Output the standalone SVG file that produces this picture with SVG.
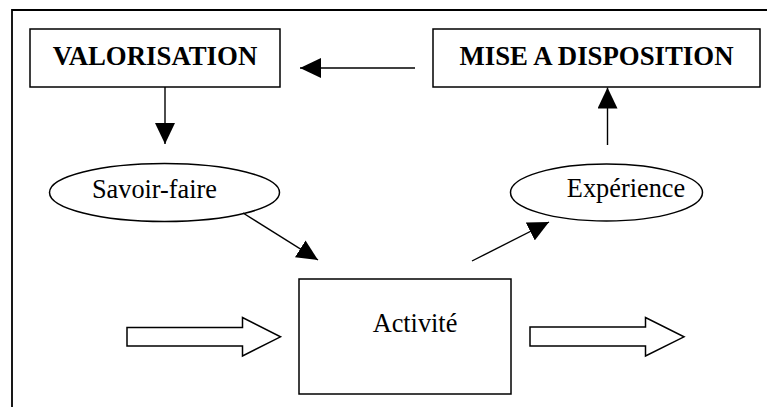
<svg xmlns="http://www.w3.org/2000/svg" width="767" height="407" viewBox="0 0 767 407">
  <style>
    .box { fill: #ffffff; stroke: #000000; stroke-width: 1.5; }
    .frame { fill: none; stroke: #000000; stroke-width: 1.8; }
    .link { fill: none; stroke: #000000; stroke-width: 1.4; marker-end: url(#head); }
    .flow { fill: #ffffff; stroke: #000000; stroke-width: 1.5; stroke-linejoin: miter; }
    .title { font-family: "Liberation Serif", "Times New Roman", serif; font-size: 26.8px; font-weight: bold; fill: #000000; }
    .label { font-family: "Liberation Serif", "Times New Roman", serif; font-size: 26.3px; fill: #000000; }
  </style>
  <defs>
    <marker id="head" markerUnits="userSpaceOnUse" markerWidth="21" markerHeight="20" refX="21" refY="10" orient="auto">
      <path d="M0,0 L21,10 L0,20 Z" fill="#000000"/>
    </marker>
  </defs>

  <rect width="767" height="407" fill="#ffffff"/>

  <!-- open frame: top and left edges only -->
  <path class="frame" d="M12,407 L12,10 L767,10"/>

  <g id="valorisation">
    <rect class="box" x="30" y="29" width="250" height="58"/>
    <text class="title" x="155" y="65" text-anchor="middle">VALORISATION</text>
  </g>

  <g id="mise-a-disposition">
    <rect class="box" x="433" y="29" width="327" height="58"/>
    <text class="title" x="596.5" y="65" text-anchor="middle">MISE A DISPOSITION</text>
  </g>

  <g id="savoir-faire">
    <ellipse class="box" cx="164.5" cy="192.5" rx="115" ry="29"/>
    <text class="label" x="154.5" y="197.5" text-anchor="middle">Savoir-faire</text>
  </g>

  <g id="experience">
    <ellipse class="box" cx="606.5" cy="192.5" rx="96" ry="28.5"/>
    <text class="label" x="626" y="197" text-anchor="middle">Expérience</text>
  </g>

  <g id="activite">
    <rect class="box" x="299" y="279" width="212" height="115"/>
    <text class="label" x="415" y="332" text-anchor="middle">Activité</text>
  </g>

  <g id="connectors">
    <line class="link" x1="415" y1="68" x2="300" y2="68"/>
    <line class="link" x1="165" y1="87" x2="165" y2="144"/>
    <line class="link" x1="607.5" y1="145" x2="607.5" y2="87.5"/>
    <line class="link" x1="243" y1="213" x2="318" y2="260"/>
    <line class="link" x1="472" y1="261" x2="549" y2="222"/>
    <!-- block arrows: input and output of the activity -->
    <path class="flow" d="M127,327.5 L242.5,327.5 L242.5,317.5 L280.5,336.8 L242.5,356 L242.5,346 L127,346 Z"/>
    <path class="flow" d="M530,327 L645.5,327 L645.5,317.5 L684,336.8 L645.5,356 L645.5,346 L530,346 Z"/>
  </g>
</svg>
